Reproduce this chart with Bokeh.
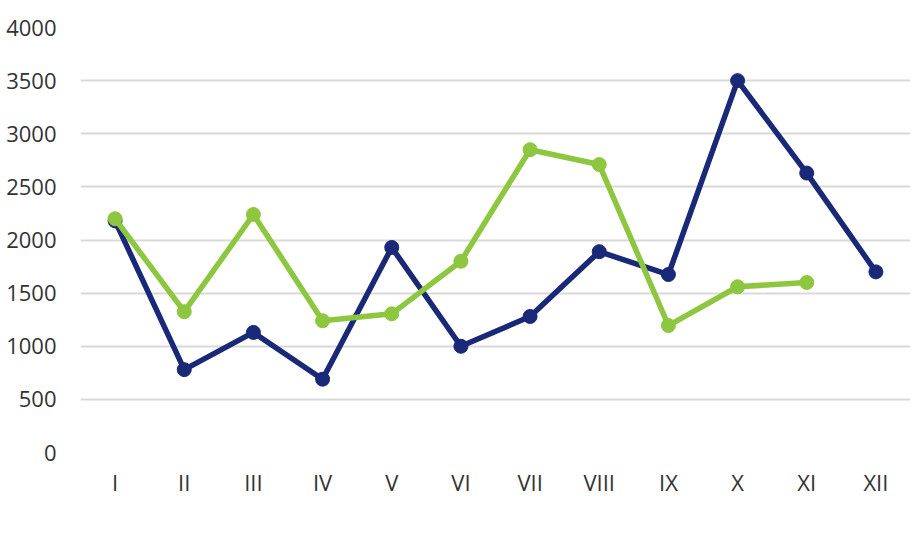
from bokeh.plotting import figure
from bokeh.models import Range1d, FactorRange, Legend, LegendItem, SingleIntervalTicker
from bokeh.embed import file_html
from bokeh.resources import INLINE

months = ["I", "II", "III", "IV", "V", "VI", "VII", "VIII", "IX", "X", "XI", "XII"]
values_2017 = [2180, 780, 1130, 690, 1930, 1000, 1280, 1890, 1675, 3500, 2630, 1700]
months_2018 = months[:11]
values_2018 = [2200, 1325, 2240, 1240, 1305, 1800, 2850, 2710, 1195, 1560, 1600]

navy = "#1a2878"
green = "#8dc63f"
font = "Open Sans"

p = figure(x_range=FactorRange(*months), y_range=Range1d(0, 4000),
           width=910, height=545, frame_width=830, frame_height=425,
           output_backend="svg", toolbar_location=None,
           min_border_left=80, min_border_top=27,
           min_border_right=0, min_border_bottom=0)
p.outline_line_color = None

l1 = p.line(months, values_2017, line_color=navy, line_width=5.5)
s1 = p.scatter(months, values_2017, size=14, fill_color=navy, line_color=navy)
l2 = p.line(months_2018, values_2018, line_color=green, line_width=5.5)
s2 = p.scatter(months_2018, values_2018, size=14, fill_color=green, line_color=green)

p.yaxis.ticker = SingleIntervalTicker(interval=500)
for ax in (p.xaxis[0], p.yaxis[0]):
    ax.axis_line_color = None
    ax.major_tick_line_color = None
    ax.minor_tick_line_color = None
    ax.major_label_text_font = font
    ax.major_label_text_font_size = "22px"
    ax.major_label_text_color = "#333333"
p.yaxis.major_label_standoff = 18
p.xaxis.major_label_standoff = 8
p.xgrid.grid_line_color = None
p.ygrid.grid_line_color = "#d9d9d9"
p.ygrid.grid_line_width = 2

legend = Legend(items=[LegendItem(label="2017", renderers=[l1, s1]),
                       LegendItem(label="2018", renderers=[l2, s2])],
                orientation="horizontal", location="top_center",
                label_text_font=font, label_text_font_size="22px",
                label_text_color="#333333", glyph_width=58, glyph_height=20,
                border_line_color=None, background_fill_alpha=0,
                spacing=18, margin=14, padding=0, label_standoff=2)
p.add_layout(legend, "below")

open("out.html", "w").write(file_html(p, INLINE))
